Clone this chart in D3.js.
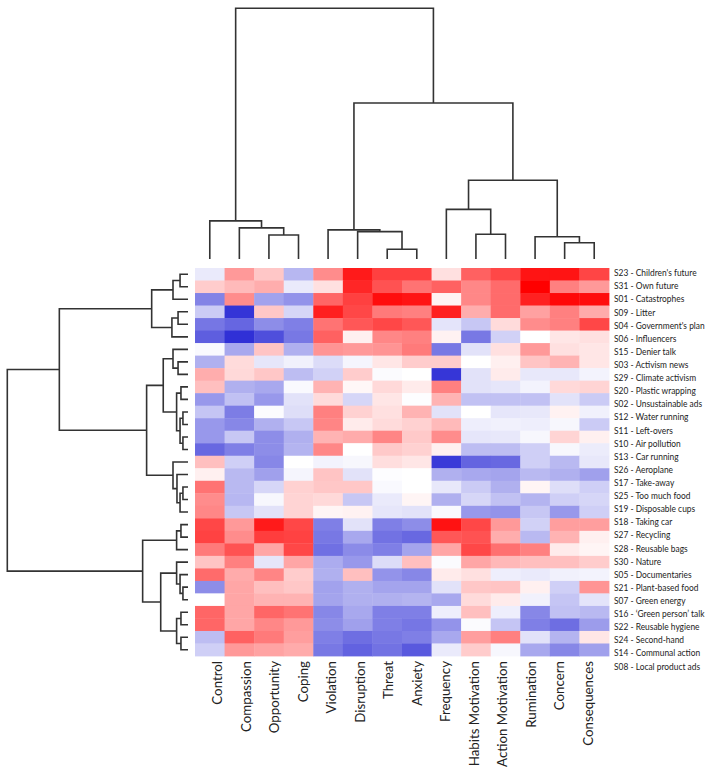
<!DOCTYPE html>
<html>
<head>
<meta charset="utf-8">
<script src="https://cdn.jsdelivr.net/npm/d3@7"></script>
<style>
  body { margin: 0; background: #fff; }
  text { font-family: Lato, "Open Sans", sans-serif; fill: #222; }
</style>
</head>
<body>
<div id="chart"></div>
<script>
var w = 709;
var h = 771;

// column order as shown (after clustering)
var columns = ["Control", "Compassion", "Opportunity", "Coping", "Violation", "Disruption",
               "Threat", "Anxiety", "Frequency", "Habits Motivation", "Action Motivation",
               "Rumination", "Concern", "Consequences"];

var rows = ["S23 - Children's future", "S31 - Own future", "S01 - Catastrophes", "S09 - Litter",
            "S04 - Government's plan", "S06 - Influencers", "S15 - Denier talk", "S03 - Activism news",
            "S29 - Climate activism", "S20 - Plastic wrapping", "S02 - Unsustainable ads",
            "S12 - Water running", "S11 - Left-overs", "S10 - Air pollution", "S13 - Car running",
            "S26 - Aeroplane", "S17 - Take-away", "S25 - Too much food", "S19 - Disposable cups",
            "S18 - Taking car", "S27 - Recycling", "S28 - Reusable bags", "S30 - Nature",
            "S05 - Documentaries", "S21 - Plant-based food", "S07 - Green energy",
            "S16 - \u2018Green person\u2019 talk", "S22 - Reusable hygiene", "S24 - Second-hand",
            "S14 - Communal action", "S08 - Local product ads"];

// standardised scores, one array per heatmap row (top to bottom), -1 blue .. +1 red
var values = [
  [-0.10,  0.40,  0.22, -0.35,  0.45,  0.90,  0.75,  0.75,  0.12,  0.62,  0.72,  0.92,  0.92,  0.73],
  [ 0.20,  0.27,  0.32, -0.10,  0.12,  0.85,  0.68,  0.55,  0.62,  0.47,  0.58,  1.00,  0.50,  0.40],
  [-0.60,  0.45, -0.45, -0.52,  0.60,  0.75,  0.95,  0.92,  0.05,  0.47,  0.58,  0.87,  0.97,  0.95],
  [-0.25, -0.98,  0.22, -0.20,  0.88,  0.72,  0.52,  0.50,  0.88,  0.32,  0.58,  0.37,  0.50,  0.33],
  [-0.66, -0.74, -0.55, -0.62,  0.55,  0.66,  0.72,  0.66, -0.13, -0.27,  0.14,  0.45,  0.50,  0.72],
  [-0.78, -1.00, -0.85, -0.65,  0.62,  0.06,  0.47,  0.50,  0.05, -0.65, -0.22,  0.00,  0.10,  0.12],
  [-0.03, -0.42,  0.23, -0.38,  0.42,  0.40,  0.42,  0.52, -0.65, -0.14,  0.12,  0.40,  0.12,  0.10],
  [-0.38,  0.14, -0.12, -0.07, -0.17, -0.05,  0.10,  0.20,  0.20,  0.00,  0.06,  0.23,  0.30,  0.10],
  [ 0.32,  0.15,  0.22, -0.32, -0.22,  0.20, -0.02,  0.00, -0.97, -0.14,  0.08, -0.11, -0.11, -0.06],
  [ 0.25, -0.38, -0.42, -0.03,  0.30,  0.03,  0.15,  0.08,  0.50, -0.14, -0.12, -0.06,  0.15,  0.17],
  [-0.50, -0.30, -0.50, -0.14,  0.14, -0.20,  0.10, -0.01,  0.30, -0.30, -0.30, -0.30, -0.14, -0.25],
  [-0.28, -0.63, -0.02, -0.16,  0.50,  0.18,  0.12,  0.30, -0.14,  0.00, -0.12, -0.11,  0.05, -0.07],
  [-0.50, -0.58, -0.38, -0.27,  0.48,  0.08,  0.14,  0.18,  0.27, -0.08, -0.07, -0.08, -0.04, -0.25],
  [-0.50, -0.27, -0.55, -0.38,  0.30,  0.33,  0.48,  0.21,  0.45, -0.12, -0.11, -0.04,  0.17,  0.06],
  [-0.73, -0.62, -0.55, -0.36,  0.47,  0.00,  0.21,  0.18,  0.06, -0.32, -0.32, -0.23, -0.04, -0.09],
  [ 0.25, -0.23, -0.58,  0.00, -0.06, -0.04,  0.13,  0.10, -0.95, -0.75, -0.73, -0.23, -0.34, -0.11],
  [ 0.06, -0.34, -0.46, -0.05,  0.23, -0.14, -0.01,  0.00, -0.38, -0.42, -0.44, -0.34, -0.38, -0.46],
  [ 0.55, -0.34, -0.20,  0.18,  0.22,  0.22, -0.03,  0.00, -0.11, -0.25, -0.38,  0.04, -0.16, -0.23],
  [ 0.45, -0.35, -0.04,  0.17,  0.15, -0.27, -0.10,  0.04, -0.38, -0.20, -0.30, -0.36, -0.23, -0.20],
  [ 0.47, -0.27, -0.14,  0.17,  0.04,  0.05, -0.12, -0.14, -0.03, -0.50, -0.52, -0.27, -0.50, -0.23],
  [ 0.72,  0.40,  0.90,  0.72, -0.62, -0.14, -0.62, -0.55,  0.93,  0.72,  0.40, -0.22,  0.38,  0.38],
  [ 0.74,  0.45,  0.76,  0.74, -0.65, -0.42, -0.68, -0.73,  0.66,  0.68,  0.32, -0.34,  0.30,  0.06],
  [ 0.52,  0.68,  0.35,  0.72, -0.69, -0.56, -0.62, -0.44,  0.35,  0.72,  0.56,  0.50,  0.08,  0.04],
  [ 0.23,  0.50, -0.12,  0.35, -0.40, -0.50, -0.17,  0.25, -0.02,  0.35,  0.28,  0.25,  0.25,  0.20],
  [ 0.58,  0.33,  0.48,  0.20, -0.38,  0.25, -0.52, -0.58,  0.08,  0.12, -0.08, -0.10, -0.07, -0.06],
  [-0.55,  0.35,  0.25,  0.22, -0.45, -0.38, -0.44, -0.44, -0.14,  0.22,  0.23,  0.06, -0.23,  0.42],
  [ 0.00,  0.35,  0.30,  0.30, -0.44, -0.38, -0.38, -0.36, -0.42,  0.14,  0.08, -0.07, -0.28, -0.13],
  [ 0.60,  0.35,  0.60,  0.55, -0.58, -0.42, -0.62, -0.62, -0.08,  0.25, -0.08, -0.58, -0.30, -0.34],
  [ 0.60,  0.35,  0.47,  0.40, -0.55, -0.46, -0.62, -0.66, -0.52, -0.02, -0.28, -0.62, -0.70, -0.48],
  [-0.32,  0.62,  0.52,  0.38, -0.62, -0.70, -0.65, -0.62, -0.42,  0.38,  0.50, -0.14, -0.36,  0.10],
  [-0.23,  0.40,  0.36,  0.33, -0.65, -0.76, -0.68, -0.80, -0.10,  0.20, -0.04, -0.42, -0.58, -0.46]
];

// linkage tables: [child a, child b, merge height]; leaves are 0..n-1, merges n, n+1, ...
var rowLinkage = [
  [0, 1, 0.44], [31, 2, 0.83], [3, 4, 0.55], [33, 5, 0.89], [32, 34, 2.01],
  [7, 8, 0.55], [6, 36, 0.83], [9, 10, 0.39], [11, 12, 0.28], [13, 14, 0.28],
  [39, 40, 0.44], [38, 41, 0.63], [37, 42, 1.37], [17, 18, 0.28], [44, 19, 0.44],
  [16, 45, 0.61], [15, 46, 0.83], [43, 47, 2.29], [35, 48, 7.12], [20, 21, 0.39],
  [50, 22, 0.63], [25, 26, 0.28], [24, 52, 0.44], [23, 53, 0.63], [27, 28, 0.39],
  [29, 30, 0.39], [55, 56, 0.63], [54, 57, 1.51], [51, 58, 2.51], [49, 59, 10]
];

var colLinkage = [
  [2, 3, 0.96], [1, 14, 1.24], [0, 15, 1.52], [6, 7, 0.39], [5, 17, 1.09],
  [4, 18, 1.16], [9, 10, 0.99], [8, 20, 1.98], [12, 13, 0.65], [11, 22, 0.89],
  [21, 23, 3.14], [19, 24, 6.22], [16, 25, 10]
];


var svg = d3.select("#chart")
            .append("svg")
            .attr("width", w)
            .attr("height", h);

var xScale = d3.scaleBand()
               .domain(d3.range(columns.length))
               .range([195, 609]);

var yScale = d3.scaleBand()
               .domain(d3.range(rows.length))
               .range([268, 656]);

var color = d3.scaleLinear()
              .domain([-1, 0, 1])
              .range(["#3030d6", "#ffffff", "#ff0000"])
              .clamp(true);

// labels in the source figure are spaced a little differently from the cells
var rowLabelScale = d3.scalePoint().domain(rows).range([272.7, 666]);
var colLabelScale = d3.scalePoint().domain(columns).range([217.5, 588]);

// dendrogram height scales
var colHeight = d3.scaleLinear().domain([0, 10]).range([259, 8.3]);
var rowHeight = d3.scaleLinear().domain([0, 10]).range([188, 7.3]);


// heatmap cells
var cells = [];
values.forEach(function(r, i) {
  r.forEach(function(v, j) { cells.push({row: i, col: j, value: v}); });
});

svg.append("g")
   .selectAll("rect")
   .data(cells)
   .enter()
   .append("rect")
   .attr("x", function(d) { return xScale(d.col); })
   .attr("y", function(d) { return yScale(d.row); })
   .attr("width", xScale.bandwidth() + 0.4)
   .attr("height", yScale.bandwidth() + 0.4)
   .attr("fill", function(d) { return color(d.value); });


// build a tree from a linkage table
function buildTree(linkage, n) {
  var nodes = d3.range(n).map(function(i) { return {leaf: i, height: 0}; });
  linkage.forEach(function(m) {
    nodes.push({height: m[2], children: [nodes[m[0]], nodes[m[1]]]});
  });
  var root = d3.hierarchy(nodes[nodes.length - 1]);
  // leaf position = centre of its band, inner node = mean of its two children
  root.eachAfter(function(node) {
    node.pos = node.children ? d3.mean(node.children, function(c) { return c.pos; })
                             : node.data.leaf;
  });
  return root;
}

var colTree = buildTree(colLinkage, columns.length);
var rowTree = buildTree(rowLinkage, rows.length);

function colX(i) { return xScale(0) + (i + 0.5) * xScale.step(); }
function rowY(i) { return yScale(0) + (i + 0.5) * yScale.step(); }

svg.append("g")
   .selectAll("path")
   .data(colTree.descendants().filter(function(d) { return d.children; }))
   .enter()
   .append("path")
   .attr("d", function(d) {
     var a = d.children[0], b = d.children[1];
     return "M" + colX(a.pos) + "," + colHeight(a.data.height) +
            "V" + colHeight(d.data.height) +
            "H" + colX(b.pos) +
            "V" + colHeight(b.data.height);
   })
   .attr("fill", "none")
   .attr("stroke", "#333")
   .attr("stroke-width", 1.6);

svg.append("g")
   .selectAll("path")
   .data(rowTree.descendants().filter(function(d) { return d.children; }))
   .enter()
   .append("path")
   .attr("d", function(d) {
     var a = d.children[0], b = d.children[1];
     return "M" + rowHeight(a.data.height) + "," + rowY(a.pos) +
            "H" + rowHeight(d.data.height) +
            "V" + rowY(b.pos) +
            "H" + rowHeight(b.data.height);
   })
   .attr("fill", "none")
   .attr("stroke", "#333")
   .attr("stroke-width", 1.6);


// row labels (the source font is a narrow one, so squeeze Lato a bit)
svg.append("g")
   .selectAll("text")
   .data(rows)
   .enter()
   .append("text")
   .text(function(d) { return d; })
   .attr("transform", function(d) { return "translate(614," + rowLabelScale(d) + ") scale(0.84,1)"; })
   .attr("dy", "0.35em")
   .attr("font-size", "10px");

// column labels
svg.append("g")
   .selectAll("text")
   .data(columns)
   .enter()
   .append("text")
   .text(function(d) { return d; })
   .attr("transform", function(d) { return "translate(" + colLabelScale(d) + ",661) rotate(-90)"; })
   .attr("dy", "0.35em")
   .attr("text-anchor", "end")
   .attr("font-size", "13.3px");
</script>
</body>
</html>
